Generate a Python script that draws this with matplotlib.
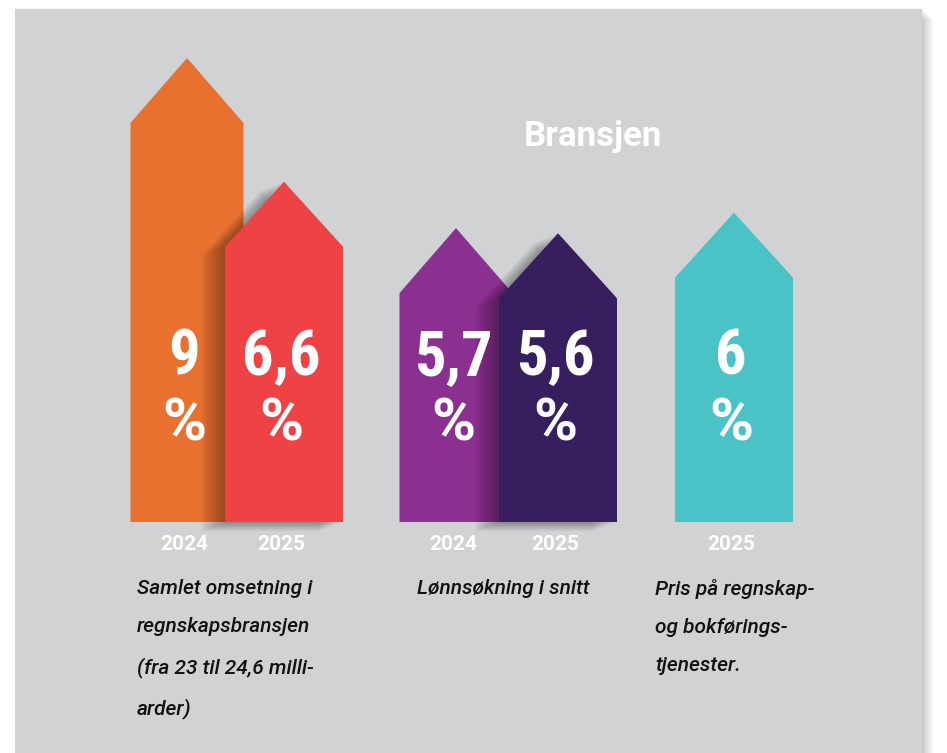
"""
plot.py - Bransjen: arrow-shaped bars with percentage growth (2024/2025).
"""
import matplotlib
matplotlib.use("Agg")
import matplotlib.pyplot as plt
from matplotlib.patches import Polygon, Rectangle

# data
years = ["2024", "2025", "2024", "2025", "2025"]
values = [9.0, 6.6, 5.7, 5.6, 6.0]
value_labels = ["9", "6,6", "5,7", "5,6", "6"]
captions = [
    "Samlet omsetning i\nregnskapsbransjen\n(fra 23 til 24,6 milli-\narder)",
    "Lønnsøkning i snitt",
    "Pris på regnskap-\nog bokførings-\ntjenester.",
]
title = "Bransjen"

# layout / style
centers = [187, 284, 456, 558, 734]
widths = [113, 118, 113, 118, 118]
colors = ["#e97130", "#ef4244", "#8b3091", "#361e5f", "#49c3c6"]
caption_x = [137, 417, 655]
PANEL = "#d1d2d4"
NUM_FONT = ["Roboto Condensed", "Roboto", "DejaVu Sans"]
FONT = ["Roboto", "DejaVu Sans"]

W, H = 947, 753
BASE = 522          # pixel row of value 0
PX_PER_UNIT = 51.56  # pixels per percentage point
TIP = 65 / PX_PER_UNIT

fig = plt.figure(figsize=(W / 100, H / 100), dpi=100)
fig.patch.set_facecolor("white")
ax = fig.add_axes([0, 0, 1, 1])
ax.set_xlim(0, W)
ax.set_ylim(-(H - BASE) / PX_PER_UNIT, BASE / PX_PER_UNIT)
ax.axis("off")


def py(pix):
    """pixel row (from top) -> data y"""
    return (BASE - pix) / PX_PER_UNIT


# panel with right-side shadow
for i in range(12):
    ax.add_patch(Rectangle((15 + i, py(H)), 907, py(8 + i) - py(H),
                           facecolor="black", alpha=0.02, lw=0, zorder=0))
ax.add_patch(Rectangle((15, py(H)), 907, py(9) - py(H),
                       facecolor=PANEL, lw=0, zorder=1))


def arrow_pts(cx, w, v, dx=0.0, dy=0.0):
    top = v - TIP
    return [(cx - w / 2 + dx, 0 + dy), (cx + w / 2 + dx, 0 + dy),
            (cx + w / 2 + dx, top + dy), (cx + dx, v + dy),
            (cx - w / 2 + dx, top + dy)]


for i, (cx, w, v, c) in enumerate(zip(centers, widths, values, colors)):
    z = 2 + i * 2
    # soft shadow for the bars that sit on top of a neighbour
    if i in (1, 3):
        for k in range(1, 16):
            ax.add_patch(Polygon(arrow_pts(cx, w, v, dx=-k * 1.6, dy=-k * 0.012),
                                 closed=True, facecolor="black", alpha=0.022,
                                 lw=0, zorder=z - 0.5))
    ax.add_patch(Polygon(arrow_pts(cx, w, v), closed=True, facecolor=c,
                         lw=0, zorder=z))
    ax.text(cx - 3, py(358), value_labels[i], ha="center", va="center",
            color="white", fontsize=45, fontweight="bold", family=NUM_FONT,
            zorder=20)
    ax.text(cx - 3, py(425), "%", ha="center", va="center",
            color="white", fontsize=43, fontweight="bold", family=FONT,
            zorder=20)
    ax.text(cx - 3, py(545), years[i], ha="center", va="center",
            color="white", fontsize=15, fontweight="bold", family=FONT,
            zorder=20)

for x, cap in zip(caption_x, captions):
    ax.text(x, py(579), cap, ha="left", va="top", color="#111111",
            fontsize=15, style="italic", fontweight="medium", family=FONT,
            linespacing=2.28, zorder=20)

ax.text(593, py(137), title, ha="center", va="center", color="white",
        fontsize=25, fontweight="bold", family=FONT, zorder=20)

fig.savefig("out.png", dpi=100, facecolor=fig.get_facecolor())
plt.close(fig)
